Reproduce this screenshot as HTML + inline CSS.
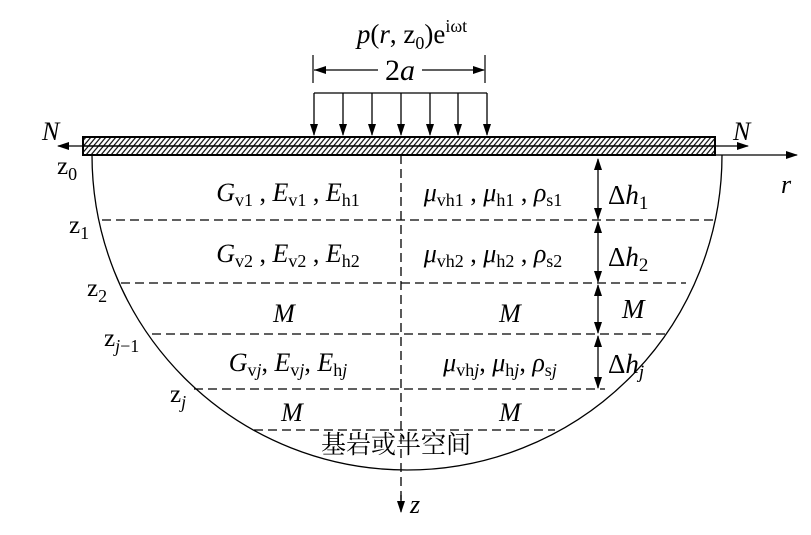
<!DOCTYPE html>
<html><head><meta charset="utf-8"><style>
body{margin:0;background:#fff}
svg text{font-family:"Liberation Serif","Noto Serif CJK SC",serif;fill:#000}
.i{font-style:italic}
</style></head><body>
<svg width="811" height="530" viewBox="0 0 811 530" xmlns="http://www.w3.org/2000/svg">
<defs>
<pattern id="h" width="5" height="9" patternUnits="userSpaceOnUse" patternTransform="skewX(-40)">
<line x1="1" y1="0" x2="1" y2="9" stroke="#000" stroke-width="1.5"/>
</pattern>
<marker id="a" markerWidth="12" markerHeight="8" refX="11" refY="4" orient="auto" markerUnits="userSpaceOnUse">
<path d="M0,0 L12,4 L0,8 Z" fill="#000"/></marker>
</defs>
<text x="412" y="43" font-size="27" text-anchor="middle"><tspan class="i">p</tspan>(<tspan class="i">r</tspan>, z<tspan font-size="18" dy="6">0</tspan><tspan dy="-6">)e</tspan><tspan font-size="18" dy="-11">iωt</tspan></text>
<line x1="313" y1="55" x2="313" y2="83" stroke="#000" stroke-width="1.2"/>
<line x1="485" y1="55" x2="485" y2="83" stroke="#000" stroke-width="1.2"/>
<line x1="314" y1="70" x2="378" y2="70" stroke="#000" stroke-width="1.3"/>
<path d="M314,70 L326,66 L326,74 Z"/>
<line x1="422" y1="70" x2="484" y2="70" stroke="#000" stroke-width="1.3" marker-end="url(#a)"/>
<text x="400" y="80" font-size="30" text-anchor="middle">2<tspan class="i">a</tspan></text>
<line x1="314" y1="93" x2="487" y2="93" stroke="#000" stroke-width="1.3"/>
<g stroke="#000" stroke-width="1.3">
<line x1="314" y1="93" x2="314" y2="135" marker-end="url(#a)"/>
<line x1="343" y1="93" x2="343" y2="135" marker-end="url(#a)"/>
<line x1="372" y1="93" x2="372" y2="135" marker-end="url(#a)"/>
<line x1="401" y1="93" x2="401" y2="135" marker-end="url(#a)"/>
<line x1="430" y1="93" x2="430" y2="135" marker-end="url(#a)"/>
<line x1="458" y1="93" x2="458" y2="135" marker-end="url(#a)"/>
<line x1="487" y1="93" x2="487" y2="135" marker-end="url(#a)"/>
</g>
<rect x="83" y="137" width="632" height="18" fill="url(#h)" stroke="#000" stroke-width="2"/>
<line x1="83" y1="146" x2="715" y2="146" stroke="#000" stroke-width="1.5"/>
<line x1="83" y1="146" x2="58" y2="146" stroke="#000" stroke-width="1.3" marker-end="url(#a)"/>
<line x1="715" y1="146" x2="748" y2="146" stroke="#000" stroke-width="1.3" marker-end="url(#a)"/>
<line x1="715" y1="155" x2="797" y2="155" stroke="#000" stroke-width="1.3" marker-end="url(#a)"/>
<text x="42" y="140" font-size="26" class="i">N</text>
<text x="733" y="140" font-size="26" class="i">N</text>
<text x="781" y="193" font-size="26" class="i">r</text>
<path d="M92,155 A314,314 0 0 0 722,155" fill="none" stroke="#000" stroke-width="1.3"/>
<g stroke="#000" stroke-width="1.3" stroke-dasharray="9,5">
<line x1="102" y1="220" x2="715" y2="220"/>
<line x1="121" y1="283" x2="686" y2="283"/>
<line x1="152" y1="334" x2="665" y2="334"/>
<line x1="194" y1="389" x2="605" y2="389"/>
<line x1="254" y1="430" x2="555" y2="430"/>
<line x1="401" y1="155" x2="401" y2="505"/>
</g>
<line x1="401" y1="495" x2="401" y2="512" stroke="#000" stroke-width="1.3" marker-end="url(#a)"/>
<text x="410" y="513" font-size="26" class="i">z</text>
<g stroke="#000" stroke-width="1.3">
<line x1="598" y1="190" x2="598" y2="159" marker-end="url(#a)"/><line x1="598" y1="190" x2="598" y2="219" marker-end="url(#a)"/>
<line x1="598" y1="252" x2="598" y2="222" marker-end="url(#a)"/><line x1="598" y1="252" x2="598" y2="282" marker-end="url(#a)"/>
<line x1="598" y1="309" x2="598" y2="285" marker-end="url(#a)"/><line x1="598" y1="309" x2="598" y2="333" marker-end="url(#a)"/>
<line x1="598" y1="362" x2="598" y2="336" marker-end="url(#a)"/><line x1="598" y1="362" x2="598" y2="388" marker-end="url(#a)"/>
</g>
<g font-size="27">
<text x="608" y="204">Δ<tspan class="i">h</tspan><tspan font-size="19" dy="5">1</tspan></text>
<text x="608" y="266">Δ<tspan class="i">h</tspan><tspan font-size="19" dy="5">2</tspan></text>
<text x="622" y="318" class="i">M</text>
<text x="608" y="373">Δ<tspan class="i">h</tspan><tspan font-size="19" dy="5" class="i">j</tspan></text>
</g>
<g font-size="25">
<text x="57" y="174">z<tspan font-size="18" dy="6">0</tspan></text>
<text x="69" y="233">z<tspan font-size="18" dy="6">1</tspan></text>
<text x="87" y="296">z<tspan font-size="18" dy="6">2</tspan></text>
<text x="104" y="346">z<tspan font-size="18" dy="6" class="i">j</tspan><tspan font-size="18">−1</tspan></text>
<text x="170" y="402">z<tspan font-size="18" dy="6" class="i">j</tspan></text>
</g>
<g font-size="26">
<text x="288" y="201" text-anchor="middle"><tspan class="i">G</tspan><tspan font-size="18" dy="5">v1</tspan><tspan dy="-5"> , </tspan><tspan class="i">E</tspan><tspan font-size="18" dy="5">v1</tspan><tspan dy="-5"> , </tspan><tspan class="i">E</tspan><tspan font-size="18" dy="5">h1</tspan></text>
<text x="493" y="201" text-anchor="middle"><tspan class="i">μ</tspan><tspan font-size="18" dy="5">vh1</tspan><tspan dy="-5"> , </tspan><tspan class="i">μ</tspan><tspan font-size="18" dy="5">h1</tspan><tspan dy="-5"> , </tspan><tspan class="i">ρ</tspan><tspan font-size="18" dy="5">s1</tspan></text>
<text x="288" y="262" text-anchor="middle"><tspan class="i">G</tspan><tspan font-size="18" dy="5">v2</tspan><tspan dy="-5"> , </tspan><tspan class="i">E</tspan><tspan font-size="18" dy="5">v2</tspan><tspan dy="-5"> , </tspan><tspan class="i">E</tspan><tspan font-size="18" dy="5">h2</tspan></text>
<text x="493" y="262" text-anchor="middle"><tspan class="i">μ</tspan><tspan font-size="18" dy="5">vh2</tspan><tspan dy="-5"> , </tspan><tspan class="i">μ</tspan><tspan font-size="18" dy="5">h2</tspan><tspan dy="-5"> , </tspan><tspan class="i">ρ</tspan><tspan font-size="18" dy="5">s2</tspan></text>
<text x="284" y="322" text-anchor="middle" class="i">M</text>
<text x="510" y="322" text-anchor="middle" class="i">M</text>
<text x="288" y="371" text-anchor="middle"><tspan class="i">G</tspan><tspan font-size="18" dy="5">v<tspan class="i">j</tspan></tspan><tspan dy="-5">, </tspan><tspan class="i">E</tspan><tspan font-size="18" dy="5">v<tspan class="i">j</tspan></tspan><tspan dy="-5">, </tspan><tspan class="i">E</tspan><tspan font-size="18" dy="5">h<tspan class="i">j</tspan></tspan></text>
<text x="500" y="371" text-anchor="middle"><tspan class="i">μ</tspan><tspan font-size="18" dy="5">vh<tspan class="i">j</tspan></tspan><tspan dy="-5">, </tspan><tspan class="i">μ</tspan><tspan font-size="18" dy="5">h<tspan class="i">j</tspan></tspan><tspan dy="-5">, </tspan><tspan class="i">ρ</tspan><tspan font-size="18" dy="5">s<tspan class="i">j</tspan></tspan></text>
<text x="292" y="421" text-anchor="middle" class="i">M</text>
<text x="510" y="421" text-anchor="middle" class="i">M</text>
<text x="396" y="453" text-anchor="middle" font-size="25">基岩或半空间</text>
</g>
</svg>
</body></html>
